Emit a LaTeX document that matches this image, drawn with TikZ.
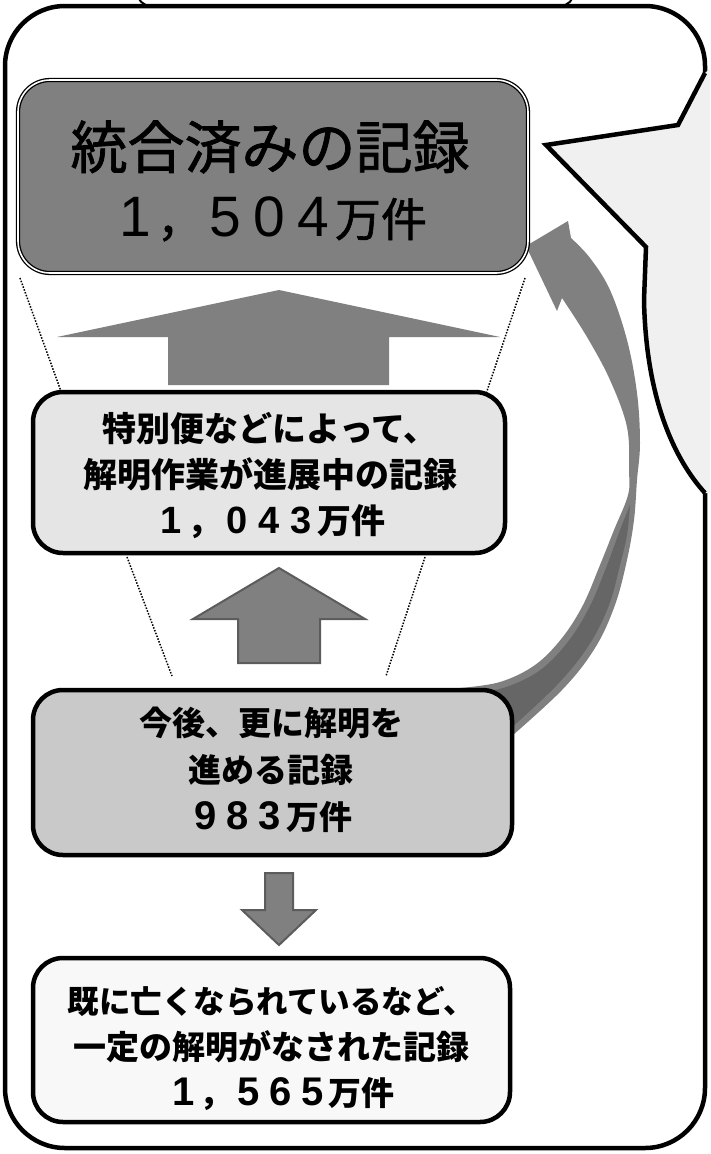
\documentclass[tikz,border=0pt]{standalone}
\usepackage{fontspec}
\setmainfont{Noto Sans CJK JP}
\newfontfamily\jpmed{Noto Sans CJK JP}[FakeBold=1.3]
\newfontfamily\numfont{Liberation Sans}
\def\dgw{32pt}
\def\dgsz{40}
\newcommand\Dg[1]{\makebox[\dgw][c]{\numfont\fontsize{\dgsz}{\dgsz}\selectfont #1}}
\definecolor{midgray}{HTML}{808080}
\definecolor{darkrib}{HTML}{666666}
\definecolor{boxA}{HTML}{E5E5E5}
\definecolor{boxB}{HTML}{C9C9C9}
\definecolor{boxC}{HTML}{F8F8F8}
\definecolor{callfill}{HTML}{F0F0F0}
\definecolor{arrline}{HTML}{5C5C5C}
\tikzset{
  frameline/.style={line width=4.5pt, draw=black},
  recbox/.style={draw=black, line width=4.5pt, rounded corners=30pt, inner sep=0pt},
  topbox/.style={draw=black, double=white, double distance=1.6pt, line width=1.3pt, rounded corners=32pt, fill=midgray, inner sep=0pt},
  guide/.style={line width=1.5pt, dash pattern=on 1.5pt off 1.5pt},
  blockarrow/.style={fill=midgray, draw=arrline, line width=2pt, line join=miter},
  txt/.style={align=center, inner sep=0pt, text=black},
}
\begin{document}
\begin{tikzpicture}[x=1pt,y=-1pt]
\useasboundingbox (0,0) rectangle (710,1154);
\begin{scope}
\clip (0,0) rectangle (710,1154);
% shape above (cut off)
\draw[line width=2pt, rounded corners=14pt] (137,-120) rectangle (574,6);
% outer frame
\draw[frameline, rounded corners=60pt] (5,6) rectangle (705,1148);
% callout bubble
\fill[callfill] (705,73) -- (678,125) -- (546,145) -- (646,247) -- (644,300) .. controls (646,400) and (675,460) .. (705,493) -- (720,493) -- (720,60) -- cycle;
\draw[frameline, line join=miter] (705,73) -- (678,125) -- (546,145) -- (646,247) -- (644,300) .. controls (646,400) and (675,460) .. (705,493);
% curved arrow (ribbon)
\fill[midgray] (526,246) -- (568,221)
  -- plot[smooth, tension=0.6] coordinates {(571,238) (590,258) (610,290) (627,340) (637,393) (640,443) (637,480) (634,520) (627,560) (615,605) (595,648) (562,690) (505,742)}
  -- plot[smooth, tension=0.6] coordinates {(460,688) (500,682) (535,665) (562,638) (583,605) (600,565) (614,530) (628,495) (629,470) (627,427) (610,380) (587,337) (562,298)}
  -- (557,311) -- cycle;
\fill[darkrib]
  plot[smooth, tension=0.6] coordinates {(630,505) (627,535) (620,565) (609,605) (589,645) (556,686) (500,738)}
  -- plot[smooth, tension=0.6] coordinates {(466,694) (503,688) (539,671) (567,643) (589,608) (606,568) (620,530) (630,505)}
  -- cycle;
% big up arrow
\fill[midgray] (279,290) -- (500,337) -- (389,337) -- (389,385) -- (168,385) -- (168,337) -- (57,337) -- cycle;
% guide lines
\coordinate (g1a) at (20,278);
\coordinate (g1b) at (62,394);
\coordinate (g2a) at (525,278);
\coordinate (g2b) at (486,394);
\coordinate (g3a) at (127,557);
\coordinate (g3b) at (172,676);
\coordinate (g4a) at (425,557);
\coordinate (g4b) at (386,676);
\draw[guide] (g1a) -- (g1b);
\draw[guide] (g2a) -- (g2b);
\draw[guide] (g3a) -- (g3b);
\draw[guide] (g4a) -- (g4b);
% boxes
\node[topbox, minimum width=510pt, minimum height=193pt] (b1) at (273,176.5) {};
\node[recbox, fill=boxA, minimum width=472pt, minimum height=161pt] (b2) at (269,472.5) {};
\node[recbox, fill=boxB, minimum width=479pt, minimum height=165pt] (b3) at (272.5,772.5) {};
\node[recbox, fill=boxC, minimum width=477pt, minimum height=164pt] (b4) at (271.5,1040) {};
% block arrows
\draw[blockarrow] (279,568) -- (365,619) -- (320,619) -- (320,663) -- (238,663) -- (238,619) -- (193,619) -- cycle;
\draw[blockarrow] (265,873) -- (293,873) -- (293,910) -- (316,910) -- (279,945) -- (242,910) -- (265,910) -- cycle;
% texts
\node[txt, font=\jpmed\fontsize{57}{60}\selectfont] (t1a) at (270,147) {統合済みの記録};
\node[txt, font=\jpmed\fontsize{46}{50}\selectfont\def\dgw{44pt}\def\dgsz{57}] (t1b) at (270,219) {\Dg{1}，\Dg{5}\Dg{0}\Dg{4}万件};
\node[txt, font=\fontsize{34}{46}\selectfont\bfseries\def\dgw{32pt}\def\dgsz{38}] (t2) at (270,476) {特別便などによって、\\解明作業が進展中の記録\\\Dg{1}，\Dg{0}\Dg{4}\Dg{3}万件};
\node[txt, font=\fontsize{33}{47}\selectfont\bfseries\def\dgw{32pt}\def\dgsz{40}] (t3) at (271,770) {今後、更に解明を\\進める記録\\\Dg{9}\Dg{8}\Dg{3}万件};
\node[txt, font=\fontsize{33}{46}\selectfont\bfseries\def\dgw{32pt}\def\dgsz{40}] (t4) at (271,1049) {{\fontsize{31.5}{46}\selectfont 既に亡くなられているなど、}\\一定の解明がなされた記録\\\hspace*{20pt}\Dg{1}，\Dg{5}\Dg{6}\Dg{5}万件};
\end{scope}
\end{tikzpicture}
\end{document}
